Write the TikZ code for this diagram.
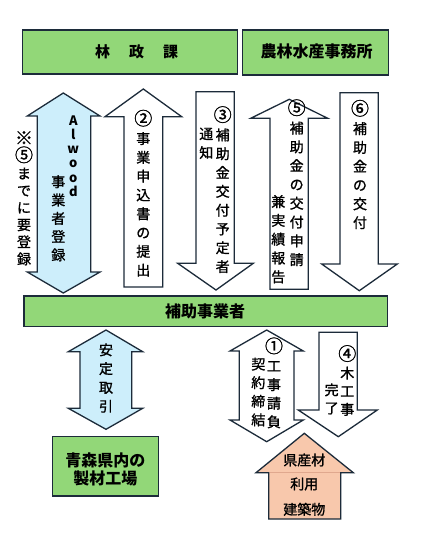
\documentclass[tikz,border=0pt]{standalone}
\usepackage{fontspec}
\setmainfont{Noto Sans CJK JP}
\newfontfamily\jpmed[FakeBold=1.2]{Noto Sans CJK JP}
\definecolor{grn}{HTML}{92D778}
\definecolor{lblue}{HTML}{CDEEFB}
\definecolor{orng}{HTML}{F8C8AC}
\definecolor{orngline}{HTML}{E0A88E}
\definecolor{edge}{HTML}{1C2B3A}
\newcommand\cnum[1]{{\fontsize{18}{18}\selectfont #1}}
\tikzset{
 box/.style={draw=edge, line width=1.3pt, fill=grn, inner sep=0pt},
 blk/.style={draw=edge, line width=1.3pt, fill=white, line join=miter},
 vt/.style={align=center, inner sep=0pt, font=\jpmed\fontsize{14}{18.8}\selectfont},
 lbl/.style={inner sep=0pt, align=center, font=\bfseries\fontsize{16}{18.3}\selectfont},
}
\begin{document}
\begin{tikzpicture}[x=1pt,y=-1pt]
\useasboundingbox[fill=white] (0,0) rectangle (435,539);

% top boxes
\node[box, minimum width=215pt, minimum height=44pt] (rinsei) at (130.2,52) {};
\node[lbl, font=\bfseries\fontsize{15}{18}\selectfont] (rinseit) at (136.7,51.7) {林\hspace{19pt}政\hspace{19pt}課};
\node[box, minimum width=146pt, minimum height=45pt] (jimusho) at (315.7,52.5) {};
\node[lbl] (jimushot) at (316.5,51.7) {農林水産事務所};

% arrow 1 (double, blue)
\draw[blk, fill=lblue] (63.3,93) -- (100,116) -- (90.7,116) -- (90.7,272) -- (100,272) -- (63.3,293) -- (27.3,272) -- (37.3,272) -- (37.3,116) -- (27.3,116) -- cycle;
\node[vt, font=\bfseries\fontsize{13}{14.2}\selectfont] (awood) at (73.3,156) {A\\l\\w\\o\\o\\d};
\node[vt, font=\jpmed\fontsize{14}{18.3}\selectfont] (toroku) at (58.3,218.3) {事\\業\\者\\登\\録};
\node[vt, font=\jpmed\fontsize{14}{17.1}\selectfont] (kome) at (24,198.3) {\cnum{※}\\\cnum{⑤}\\ま\\で\\に\\要\\登\\録};

% arrow 2 (up)
\draw[blk] (143.3,89) -- (181.7,116.7) -- (162.7,116.7) -- (162.7,287) -- (124,287) -- (124,116.7) -- (105,116.7) -- cycle;
\node[vt] (a2) at (143.3,193.2) {\cnum{②}\\事\\業\\申\\込\\書\\の\\提\\出};

% arrow 3 (down)
\draw[blk] (196,91.7) -- (234.3,91.7) -- (234.3,263.3) -- (253.3,263.3) -- (216,290) -- (177.7,263.3) -- (196,263.3) -- cycle;
\node[vt] (a3r) at (222.7,189.6) {\cnum{③}\\補\\助\\金\\交\\付\\予\\定\\者};
\node[vt] (a3l) at (206.3,143.3) {通\\知};

% arrow 5 (up)
\draw[blk] (289.3,99.3) -- (327.7,118.3) -- (308.3,118.3) -- (308.3,289.3) -- (270,289.3) -- (270,118.3) -- (250.7,118.3) -- cycle;
\node[vt] (a5r) at (296.7,182.7) {\cnum{⑤}\\補\\助\\金\\の\\交\\付\\申\\請};
\node[vt] (a5l) at (278.3,239.2) {兼\\実\\績\\報\\告};

% arrow 6 (down)
\draw[blk] (340,92.7) -- (378.3,92.7) -- (378.3,264) -- (397.3,264) -- (359.3,290.7) -- (321.7,264) -- (340,264) -- cycle;
\node[vt] (a6) at (360,164.5) {\cnum{⑥}\\補\\助\\金\\の\\交\\付};

% middle box
\node[box, minimum width=363.7pt, minimum height=30.7pt] (jigyosha) at (205.8,311.3) {};
\node[lbl] (jigyoshat) at (205,311.7) {補助事業者};

% double arrow blue (anteitorihiki)
\draw[blk, fill=lblue] (106,330) -- (142.7,351.7) -- (131.7,351.7) -- (131.7,408.3) -- (142.7,408.3) -- (106,429.3) -- (68.3,408.3) -- (80,408.3) -- (80,351.7) -- (68.3,351.7) -- cycle;
\node[vt] (antei) at (106,378) {安\\定\\取\\引};

% lumber mill box
\node[box, minimum width=106pt, minimum height=59.3pt] (seizai) at (105.3,466.3) {};
\node[lbl] (seizait) at (105.3,469.2) {青森県内の\\製材工場};

% double arrow 1 (white)
\draw[blk] (266.7,330) -- (303.3,351) -- (294,351) -- (294,420) -- (303.3,420) -- (266.7,441.7) -- (230,420) -- (239.3,420) -- (239.3,351) -- (230,351) -- cycle;
\node[vt, font=\jpmed\fontsize{14}{18.6}\selectfont] (a1r) at (274,382.9) {\cnum{①}\\工\\事\\請\\負};
\node[vt, font=\jpmed\fontsize{14}{18.6}\selectfont] (a1l) at (258.3,392) {契\\約\\締\\結};

% arrow 4 (down)
\draw[blk] (319,332.3) -- (357.3,332.3) -- (357.3,410) -- (377.3,410) -- (338.3,436.7) -- (298.3,410) -- (319,410) -- cycle;
\node[vt, font=\jpmed\fontsize{14}{18.1}\selectfont] (a4r) at (347.3,380.5) {\cnum{④}\\木\\工\\事};
\node[vt, font=\jpmed\fontsize{14}{18.1}\selectfont] (a4l) at (331.7,398.9) {完\\了};

% orange arrow
\draw[blk, fill=orng] (304.3,433.3) -- (353.3,472.7) -- (340.7,472.7) -- (340.7,519) -- (268.7,519) -- (268.7,472.7) -- (256,472.7) -- cycle;
\draw[orngline, line width=0.6pt] (269.5,472.7) -- (339.9,472.7);
\node[inner sep=0pt, font=\jpmed\fontsize{14}{16}\selectfont] (kensan) at (304.3,460) {県産材};
\node[inner sep=0pt, font=\jpmed\fontsize{14}{16}\selectfont] (riyo) at (304.3,484) {利用};
\node[inner sep=0pt, font=\jpmed\fontsize{14}{16}\selectfont] (kenchiku) at (304.3,509.3) {建築物};
\end{tikzpicture}
\end{document}
